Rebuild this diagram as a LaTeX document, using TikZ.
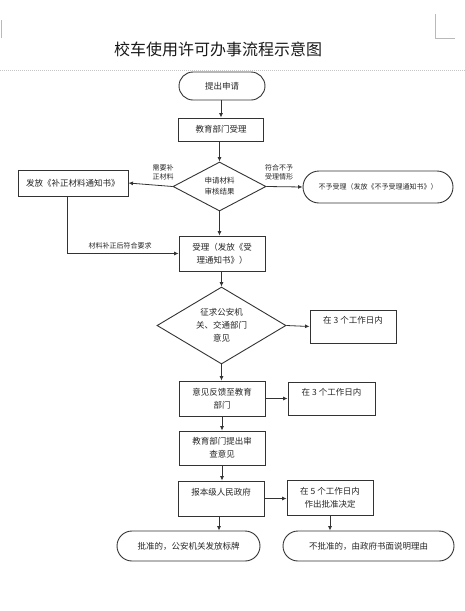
\documentclass[tikz,border=0pt]{standalone}
\usepackage{fontspec}
\newfontfamily\cjk{Noto Sans CJK SC}
\usetikzlibrary{shapes.geometric,shapes.misc,arrows.meta}
\tikzset{
  base/.style={draw=black!80, line width=0.9pt, text=black!85, inner sep=0pt, align=center,
    font=\cjk\fontsize{8.5}{13}\selectfont},
  box/.style={base, rectangle},
  term/.style={base, rounded rectangle},
  dec/.style={base, diamond, aspect=1.9},
  lbl/.style={text=black!85, inner sep=0pt, align=center, font=\cjk\fontsize{7}{9}\selectfont},
  flow/.style={draw=black!80, line width=0.8pt, -{Latex[length=4.5pt,width=4pt]}},
  cornermark/.style={draw=gray!55, line width=0.8pt}
}
\begin{document}
\begin{tikzpicture}[x=1pt,y=-1pt]
\useasboundingbox (0,0) rectangle (465,611);
\fill[white] (0,0) rectangle (465,611);
% page corner marks and separator
\coordinate (tl1) at (1,20); \coordinate (tl2) at (1,38);
\draw[cornermark] (tl1) -- (tl2);
\coordinate (tr1) at (435,14); \coordinate (tr2) at (435,38); \coordinate (tr3) at (455,38);
\draw[cornermark] (tr1) -- (tr2) -- (tr3);
\coordinate (sl) at (0,70); \coordinate (sr) at (465,70);
\draw[gray!45, line width=0.5pt, dash pattern=on 1pt off 1pt] (sl) -- (sr);
% title
\node[text=black!90, inner sep=0pt, font=\cjk\fontsize{16}{18}\selectfont] (title) at (218,49) {校车使用许可办事流程示意图};
% nodes
\node[term, minimum width=86pt, minimum height=28pt] (start) at (222,86) {提出申请};
\node[box, minimum width=85pt, minimum height=23pt] (b1) at (221,129.5) {教育部门受理};
\node[dec, minimum width=93pt, minimum height=49pt, font=\cjk\fontsize{7.5}{11}\selectfont] (d1) at (219.5,186.5) {申请材料\\审核结果};
\node[box, minimum width=110pt, minimum height=26pt] (bl) at (73,183) {发放《补正材料通知书》};
\node[term, minimum width=150pt, minimum height=32pt, font=\cjk\fontsize{7}{9}\selectfont] (r1) at (378,187) {不予受理（发放《不予受理通知书》）};
\node[box, minimum width=86pt, minimum height=35pt] (b2) at (222,253.5) {受理（发放《受\\理通知书》）};
\node[dec, minimum width=129pt, minimum height=77pt] (d2) at (221.5,325.5) {征求公安机\\关、交通部门\\意见};
\node[box, minimum width=86pt, minimum height=33pt] (rb1) at (353,326.5) {在 3 个工作日内\\\mbox{}};
\node[box, minimum width=86pt, minimum height=35pt] (b3) at (222,398.5) {意见反馈至教育\\部门};
\node[box, minimum width=87pt, minimum height=33pt] (rb2) at (331.5,398.5) {在 3 个工作日内\\\mbox{}};
\node[box, minimum width=86pt, minimum height=34pt] (b4) at (222,448) {教育部门提出审\\查意见};
\node[box, minimum width=86pt, minimum height=35pt] (b5) at (221,498.5) {报本级人民政府\\\mbox{}};
\node[box, minimum width=86pt, minimum height=35pt] (rb3) at (330,497.5) {在 5 个工作日内\\作出批准决定};
\node[term, minimum width=143pt, minimum height=30pt] (e1) at (188.5,546) {批准的，公安机关发放标牌};
\node[term, minimum width=171pt, minimum height=30pt] (e2) at (368.5,546) {不批准的，由政府书面说明理由};
% connectors
\draw[flow] (b1.north |- start.south) -- (b1.north);
\draw[flow] (d1.south |- b1.south) -- (d1.north);
\draw[flow] (d1.west) -- (bl.east);
\node[lbl] (l1) at (163,172) {需要补\\正材料};
\draw[flow] (d1.east) -- (r1.west);
\node[lbl] (l2) at (279,172) {符合不予\\受理情形};
\draw[flow] (d1.south) -- (d1.south |- b2.north);
\draw[flow] ([xshift=-6pt]bl.south) |- (b2.west);
\node[lbl] (l3) at (120,245.5) {材料补正后符合要求};
\draw[flow] (d2.north |- b2.south) -- (d2.north);
\draw[flow] (d2.east) -- (rb1.west);
\draw[flow] (d2.south) -- (d2.south |- b3.north);
\draw[flow] (b3.east) -- (rb2.west);
\draw[flow] (b3.south) -- (b4.north);
\draw[flow] (b4.south) -- (b4.south |- b5.north);
\draw[flow] (b5.east) -- (b5.east -| rb3.west);
\draw[flow] ([xshift=-2pt]b5.south) -- ([xshift=-2pt]b5.south |- e1.north);
\draw[flow] (rb3.south) -- (rb3.south |- e2.north);
\end{tikzpicture}
\end{document}
